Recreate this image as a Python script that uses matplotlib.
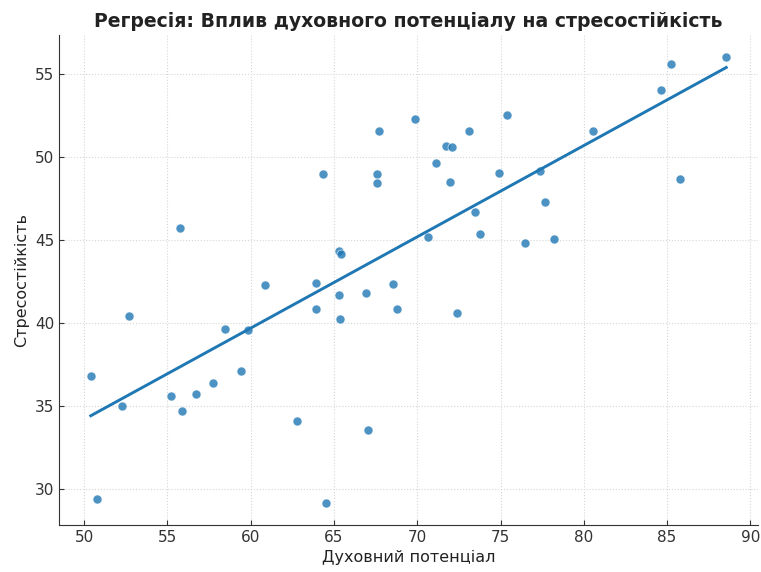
import numpy as np
import matplotlib
matplotlib.use("Agg")
from matplotlib import pyplot as plt

# духовний потенціал / стресостійкість
spirit = [50.4, 50.8, 52.3, 52.7, 55.2, 55.9, 55.75, 56.7, 57.75, 58.45,
          59.4, 59.85, 60.85, 62.8, 63.95, 63.95, 64.35, 64.55, 65.3, 65.4,
          65.3, 65.35, 66.95, 67.05, 67.6, 67.6, 67.7, 68.55, 68.8, 69.85,
          70.65, 71.1, 71.7, 72.1, 71.95, 72.4, 73.1, 73.45, 73.75, 74.9,
          75.4, 76.45, 77.35, 77.65, 78.2, 80.55, 84.65, 85.25, 85.8, 88.55]
stress = [36.8, 29.4, 35.0, 40.4, 35.6, 34.7, 45.7, 35.7, 36.35, 39.6,
          37.1, 39.55, 42.25, 34.05, 42.4, 40.85, 48.95, 29.15, 44.3, 44.15,
          41.7, 40.25, 41.8, 33.55, 48.95, 48.45, 51.55, 42.35, 40.85, 52.3,
          45.15, 49.6, 50.65, 50.6, 48.5, 40.6, 51.55, 46.7, 45.35, 49.05,
          52.55, 44.8, 49.15, 47.25, 45.05, 51.55, 54.05, 55.6, 48.65, 56.0]

x = np.array(spirit)
y = np.array(stress)
k, b = np.polyfit(x, y, 1)
xs = np.array([x.min(), x.max()])

fig = plt.figure(figsize=(7.61, 5.72), dpi=100)
ax = fig.add_axes([59/761, 1-525/572, (758-59)/761, (525-35)/572])

ax.scatter(x, y, s=42, color='#1f77b4', alpha=0.8, edgecolors='white', linewidths=0.5, zorder=3)
ax.plot(xs, k*xs + b, color='#1f77b4', lw=2.1, zorder=4)

ax.set_xticks(range(50, 91, 5))
ax.set_yticks(range(30, 56, 5))
ax.grid(True, linestyle=':', color='#d6d6d6', lw=0.8)
ax.tick_params(direction='in', labelsize=11, color='#333333', labelcolor='#333333')
for s in ['top', 'right']:
    ax.spines[s].set_visible(False)
for s in ['left', 'bottom']:
    ax.spines[s].set_color('#333333')

ax.set_xlabel('Духовний потенціал', fontsize=11.5, color='#222222')
ax.set_ylabel('Стресостійкість', fontsize=11.5, color='#222222')
ax.set_title('Регресія: Вплив духовного потенціалу на стресостійкість',
             fontsize=13.6, fontweight='bold', color='#222222', pad=6)

fig.savefig('out.png', dpi=100)
